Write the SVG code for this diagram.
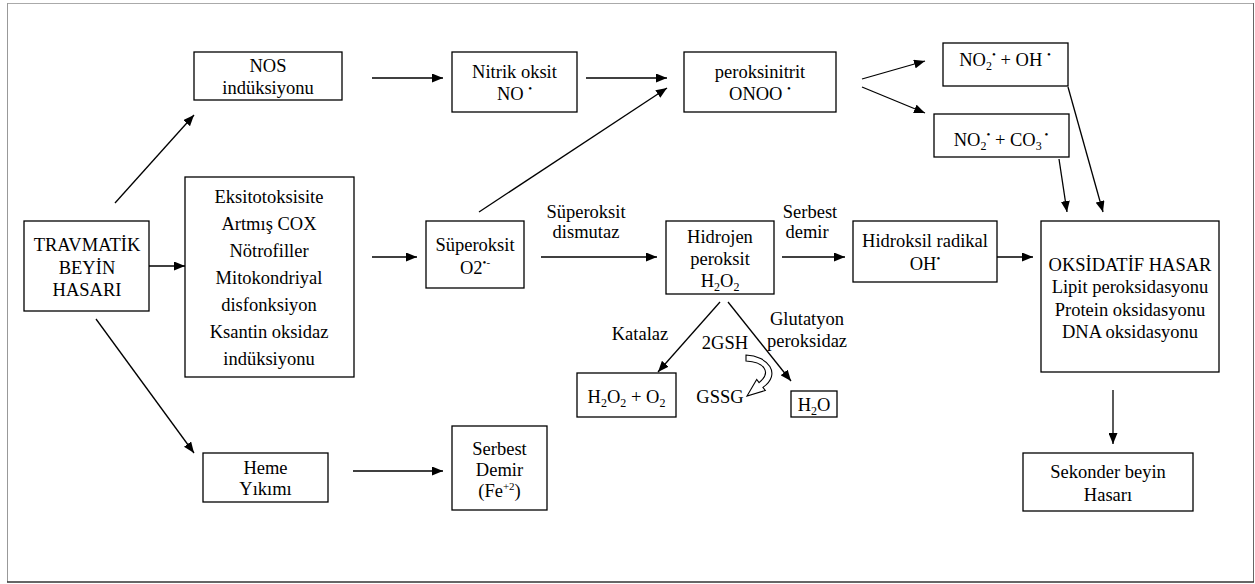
<svg xmlns="http://www.w3.org/2000/svg" width="1255" height="584" viewBox="0 0 1255 584" font-family="'Liberation Serif', Tinos, 'DejaVu Serif', serif">
<defs>
<marker id="ah" markerUnits="userSpaceOnUse" markerWidth="11" markerHeight="9" refX="11" refY="4.5" orient="auto">
<path d="M0,0 L11,4.5 L0,9 Z" fill="#000"/>
</marker>
<style>
.box{fill:#fff;stroke:#000;stroke-width:1.3}
.t{font-family:'Liberation Serif', Tinos, 'DejaVu Serif', serif;font-size:18.5px;fill:#000;text-anchor:middle}
.c{stroke:#000;stroke-width:1.3;fill:none;marker-end:url(#ah)}
.sub{font-size:12px}
.sup{font-size:11px}
</style>
</defs>
<rect width="1255" height="584" fill="#fff"/>
<g id="frame">
<line x1="7" y1="3.5" x2="1254" y2="3.5" stroke="#aaa" stroke-width="1"/>
<line x1="7.5" y1="3" x2="7.5" y2="582" stroke="#999" stroke-width="1"/>
<line x1="1253.5" y1="3" x2="1253.5" y2="582" stroke="#666" stroke-width="1"/>
<line x1="7" y1="582" x2="1254" y2="582" stroke="#333" stroke-width="1.5"/>
</g>

<g id="connectors">
<line class="c" x1="115" y1="203" x2="194" y2="115"/>
<line class="c" x1="149" y1="266" x2="185" y2="266"/>
<line class="c" x1="96" y1="319" x2="194" y2="453"/>
<line class="c" x1="372" y1="78" x2="443" y2="78"/>
<line class="c" x1="372" y1="257" x2="417" y2="257"/>
<line class="c" x1="586" y1="78" x2="667" y2="78"/>
<line class="c" x1="479" y1="212" x2="667" y2="88"/>
<line class="c" x1="541" y1="257" x2="657" y2="257"/>
<line class="c" x1="782" y1="257" x2="845" y2="257"/>
<line class="c" x1="997" y1="257" x2="1033" y2="257"/>
<line class="c" x1="862" y1="79" x2="925" y2="61"/>
<line class="c" x1="862" y1="87" x2="925" y2="113"/>
<line class="c" x1="1068" y1="87" x2="1103" y2="212"/>
<line class="c" x1="1059" y1="159" x2="1067" y2="212"/>
<line class="c" x1="1113" y1="390" x2="1113" y2="444"/>
<line class="c" x1="353" y1="471" x2="443" y2="471"/>
<line class="c" x1="720" y1="302" x2="658" y2="372"/>
<line class="c" x1="728" y1="302" x2="791" y2="381"/>
<path d="M746,355 C768,356 782,374 762.9,387.4 L765.3,390.5 L747,396 L756.7,379.5 L759.1,382.6 C772,372 764,362 746,361 Z" fill="#fff" stroke="#000" stroke-width="1.1" stroke-linejoin="miter"/>
</g>

<g id="labels">
<text class="t" x="586" y="218">Süperoksit</text>
<text class="t" x="586" y="238">dismutaz</text>
<text class="t" x="810" y="218">Serbest</text>
<text class="t" x="807" y="238">demir</text>
<text class="t" x="640" y="340">Katalaz</text>
<text class="t" x="725" y="349">2GSH</text>
<text class="t" x="720" y="403">GSSG</text>
<text class="t" x="807" y="325">Glutatyon</text>
<text class="t" x="807" y="347">peroksidaz</text>
</g>

<g id="travmatik">
<rect class="box" x="24" y="221" width="125" height="90"/>
<text class="t" x="87" y="251">TRAVMATİK</text>
<text class="t" x="87" y="274">BEYİN</text>
<text class="t" x="87" y="296">HASARI</text>
</g>

<g id="nos">
<rect class="box" x="194" y="52" width="148" height="48"/>
<text class="t" x="268" y="72">NOS</text>
<text class="t" x="268" y="94">indüksiyonu</text>
</g>

<g id="eksito">
<rect class="box" x="185" y="177" width="169" height="200"/>
<text class="t" x="269" y="203">Eksitotoksisite</text>
<text class="t" x="269" y="230">Artmış COX</text>
<text class="t" x="269" y="257">Nötrofiller</text>
<text class="t" x="269" y="284">Mitokondriyal</text>
<text class="t" x="269" y="311">disfonksiyon</text>
<text class="t" x="269" y="338">Ksantin oksidaz</text>
<text class="t" x="269" y="365">indüksiyonu</text>
</g>

<g id="heme">
<rect class="box" x="203" y="453" width="125" height="49"/>
<text class="t" x="265.5" y="474">Heme</text>
<text class="t" x="265.5" y="495">Yıkımı</text>
</g>

<g id="nitrik">
<rect class="box" x="452" y="52" width="125" height="60"/>
<text class="t" x="514.5" y="78">Nitrik oksit</text>
<text class="t" x="514.5" y="100">NO <tspan class="sup" dy="-8">•</tspan></text>
</g>

<g id="peroksinitrit">
<rect class="box" x="684" y="52" width="152" height="60"/>
<text class="t" x="760" y="78">peroksinitrit</text>
<text class="t" x="760" y="100">ONOO <tspan class="sup" dy="-8">•</tspan></text>
</g>

<g id="no2oh">
<rect class="box" x="943" y="43" width="125" height="43"/>
<text class="t" x="1005" y="66">NO<tspan class="sub" dy="4">2</tspan><tspan class="sup" dy="-12">•</tspan><tspan dy="8"> + OH </tspan><tspan class="sup" dy="-8">•</tspan></text>
</g>

<g id="no2co3">
<rect class="box" x="934" y="114" width="135" height="43"/>
<text class="t" x="1001" y="146">NO<tspan class="sub" dy="4">2</tspan><tspan class="sup" dy="-12">•</tspan><tspan dy="8"> + CO</tspan><tspan class="sub" dy="4">3</tspan><tspan class="sup" dy="-12"> •</tspan></text>
</g>

<g id="superoksit">
<rect class="box" x="426" y="221" width="98" height="67"/>
<text class="t" x="475" y="251">Süperoksit</text>
<text class="t" x="475" y="274">O2<tspan class="sup" dy="-8">•-</tspan></text>
</g>

<g id="hidrojen">
<rect class="box" x="666" y="221" width="108" height="73"/>
<text class="t" x="720" y="243">Hidrojen</text>
<text class="t" x="720" y="265">peroksit</text>
<text class="t" x="720" y="287">H<tspan class="sub" dy="4">2</tspan><tspan dy="-4">O</tspan><tspan class="sub" dy="4">2</tspan></text>
</g>

<g id="hidroksil">
<rect class="box" x="853" y="221" width="144" height="61"/>
<text class="t" x="925" y="247">Hidroksil radikal</text>
<text class="t" x="925" y="270">OH<tspan class="sup" dy="-8">•</tspan></text>
</g>

<g id="oksidatif">
<rect class="box" x="1041" y="221" width="178" height="151"/>
<text class="t" x="1130" y="271">OKSİDATİF HASAR</text>
<text class="t" x="1130" y="293">Lipit peroksidasyonu</text>
<text class="t" x="1130" y="316">Protein oksidasyonu</text>
<text class="t" x="1130" y="338">DNA oksidasyonu</text>
</g>

<g id="sekonder">
<rect class="box" x="1023" y="453" width="170" height="58"/>
<text class="t" x="1108" y="478">Sekonder beyin</text>
<text class="t" x="1108" y="501">Hasarı</text>
</g>

<g id="h2o2o2">
<rect class="box" x="577" y="373" width="99" height="44"/>
<text class="t" x="626.5" y="403">H<tspan class="sub" dy="4">2</tspan><tspan dy="-4">O</tspan><tspan class="sub" dy="4">2</tspan><tspan dy="-4"> + O</tspan><tspan class="sub" dy="4">2</tspan></text>
</g>

<g id="h2o">
<rect class="box" x="791" y="391" width="46" height="26"/>
<text class="t" x="814" y="411">H<tspan class="sub" dy="4">2</tspan><tspan dy="-4">O</tspan></text>
</g>

<g id="serbestdemir">
<rect class="box" x="452" y="426" width="95" height="84"/>
<text class="t" x="499.5" y="455">Serbest</text>
<text class="t" x="499.5" y="476">Demir</text>
<text class="t" x="499.5" y="497">(Fe<tspan class="sup" dy="-7">+2</tspan><tspan dy="7">)</tspan></text>
</g>
</svg>
